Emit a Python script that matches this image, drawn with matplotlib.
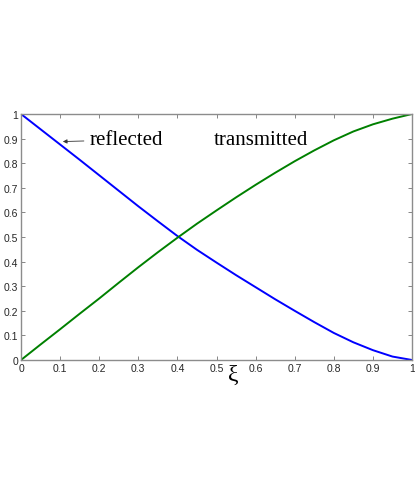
import numpy as np
import matplotlib.pyplot as plt

# Datos
xi = [0.0, 0.05, 0.1, 0.15, 0.2, 0.25, 0.3, 0.35, 0.4, 0.45, 0.5,
      0.55, 0.6, 0.65, 0.7, 0.75, 0.8, 0.85, 0.9, 0.95, 1.0]
transmitted = [0.0, 0.063, 0.125, 0.188, 0.25, 0.314, 0.377, 0.438, 0.497, 0.554, 0.608,
               0.661, 0.712, 0.761, 0.808, 0.852, 0.893, 0.929, 0.958, 0.981, 1.0]
reflected = [1.0, 0.938, 0.876, 0.814, 0.751, 0.688, 0.625, 0.564, 0.504, 0.448, 0.396,
             0.345, 0.296, 0.247, 0.200, 0.154, 0.110, 0.072, 0.040, 0.014, 0.0]
ticks = [0, 0.1, 0.2, 0.3, 0.4, 0.5, 0.6, 0.7, 0.8, 0.9, 1]
tick_labels = ['0', '0.1', '0.2', '0.3', '0.4', '0.5', '0.6', '0.7', '0.8', '0.9', '1']

fig = plt.figure(figsize=(4.15, 4.85), dpi=100)
ax = fig.add_axes([21/415, 1 - 361/485, 391/415, 246/485])

ax.plot(xi, reflected, color=(0, 0, 1), lw=1.4)
ax.plot(xi, transmitted, color=(0, 0.5, 0), lw=1.4)

ax.set_xlim(0, 1)
ax.set_ylim(0, 1)
ax.set_xticks(ticks)
ax.set_yticks(ticks)
ax.set_xticklabels(tick_labels, family='Liberation Sans', fontsize=7.5)
ax.set_yticklabels(tick_labels, family='Liberation Sans', fontsize=7.5)
ax.tick_params(direction='in', length=3, width=0.6, color='0.45',
               top=True, right=True, pad=2, labelcolor='0.15')
for s in ax.spines.values():
    s.set_color('0.55')
    s.set_linewidth(1.0)

ax.set_xlabel('\u03be', family='Liberation Serif', fontsize=17)
ax.xaxis.set_label_coords(0.542, -0.015)

ax.annotate('reflected', xy=(0.107, 0.888), xytext=(0.175, 0.895),
            family='Liberation Serif', fontsize=15, va='center',
            arrowprops=dict(arrowstyle='-|>', color='0.2', lw=0.6,
                            mutation_scale=6, shrinkA=2, shrinkB=0))
ax.text(0.494, 0.895, 'transmitted', family='Liberation Serif',
        fontsize=15, va='center')

fig.savefig('out.png', dpi=100)
